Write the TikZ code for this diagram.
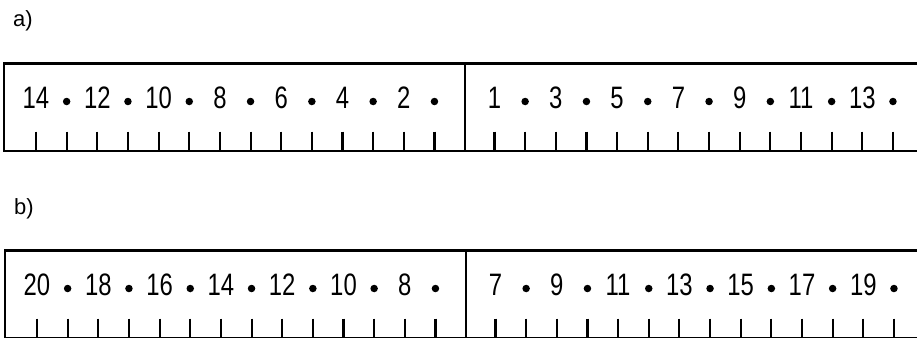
\documentclass[tikz,border=0pt]{standalone}
\usepackage{fontspec}
\setmainfont{Liberation Sans}
\newfontfamily\numfont[FakeStretch=0.77]{Liberation Sans}
\tikzset{
  frame/.style={line width=2.3pt},
  tickmark/.style={line width=2.1pt},
  num/.style={font=\numfont\fontsize{31}{32}\selectfont, anchor=base, inner sep=0pt},
  dotmark/.style={circle, fill=black, inner sep=0pt, minimum size=7.5pt},
  panel/.style={font=\fontsize{22}{24}\selectfont, anchor=base west, inner sep=0pt}
}
\newcommand{\rulerpanel}[5]{%
  \begin{scope}[shift={(#3,#2)}]
    \node[panel] (#1lab) at (13,27) {#1)};
    \draw[frame] (930,63.5) -- (4,63.5) -- (4,151) -- (930,151);
    \draw[frame] (465,63.5) -- (465,151);
    \foreach \k in {0,...,13} {
      \draw[tickmark] (36+30.65*\k,131.5) -- (36+30.65*\k,151);
      \draw[tickmark] (494.5+30.65*\k,131.5) -- (494.5+30.65*\k,151);
    }
    \foreach \n [count=\i from 0] in {#4} {
      \node[num] (#1L\i) at (36+61.3*\i,108.5) {\n};
      \node[dotmark] (#1Ld\i) at (66.65+61.3*\i,101.5) {};
    }
    \foreach \n [count=\i from 0] in {#5} {
      \node[num] (#1R\i) at (494.5+61.3*\i,108.5) {\n};
      \node[dotmark] (#1Rd\i) at (525.15+61.3*\i,101.5) {};
    }
  \end{scope}}
\begin{document}
\begin{tikzpicture}[x=1pt,y=-1pt]
\useasboundingbox (0,0) rectangle (917,337);
\clip (0,0) rectangle (917,337);
\rulerpanel{a}{0}{0}{14,12,10,8,6,4,2}{1,3,5,7,9,11,13}
\rulerpanel{b}{187}{1}{20,18,16,14,12,10,8}{7,9,11,13,15,17,19}
\end{tikzpicture}
\end{document}
